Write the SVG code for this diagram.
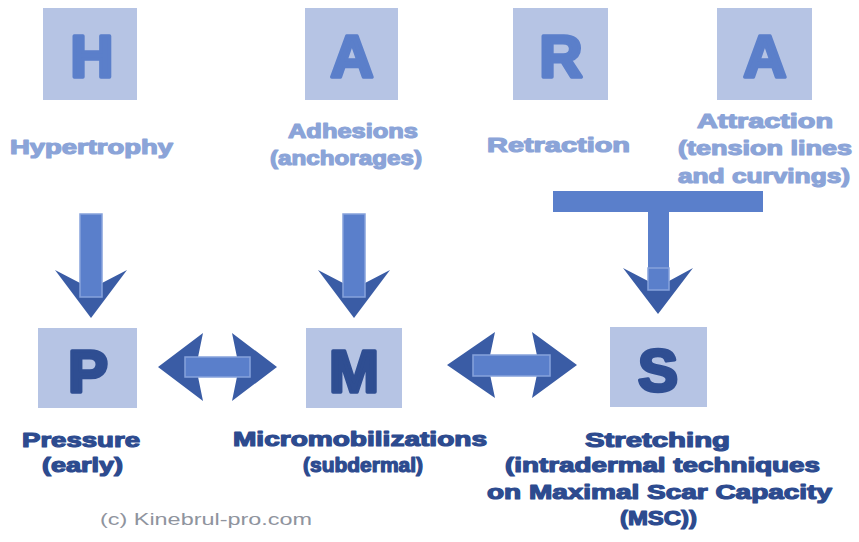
<svg xmlns="http://www.w3.org/2000/svg" width="859" height="542" viewBox="0 0 859 542">
<defs>
<style>
.box{fill:#b6c4e4}
.bigt{font-family:"Liberation Sans",Arial,sans-serif;font-weight:bold;font-size:60px;text-anchor:middle;fill:#5b7fca;stroke:#5b7fca;stroke-width:3.5;stroke-linejoin:round}
.bigb{font-family:"Liberation Sans",Arial,sans-serif;font-weight:bold;font-size:60px;text-anchor:middle;fill:#2f4e92;stroke:#2f4e92;stroke-width:3.5;stroke-linejoin:round}
.lt{font-family:"Liberation Sans",Arial,sans-serif;font-weight:bold;font-size:20px;fill:#8ba4d8;stroke:#8ba4d8;stroke-width:1.2;stroke-linejoin:round}
.lb{font-family:"Liberation Sans",Arial,sans-serif;font-weight:bold;font-size:20px;fill:#2d4b8f;stroke:#2d4b8f;stroke-width:1.2;stroke-linejoin:round}
.cp{font-family:"Liberation Sans",Arial,sans-serif;font-size:17px;fill:#8f949e}
.head{fill:#3a5ca5}
.stem{fill:#5a7fcb;stroke:#87a2dc;stroke-width:1.5}
.bar{fill:#5a7fcb}
</style>
</defs>
<rect width="859" height="542" fill="#ffffff"/>

<g id="connectors">
  <!-- H -> P -->
  <polygon class="head" points="55,270 91,318 127,270 102,283 80,283"/>
  <rect class="stem" x="80" y="214" width="22" height="83"/>
  <!-- A -> M -->
  <polygon class="head" points="318,270 354,318 390,270 365,283 343,283"/>
  <rect class="stem" x="343" y="214" width="22" height="83"/>
  <!-- R + A -> S -->
  <rect class="bar" x="553" y="191" width="210" height="21"/>
  <polygon class="head" points="623,268 658,314 693,268 669,281 648,281"/>
  <rect class="stem" x="648" y="210" width="21" height="80" style="stroke:none"/>
  <rect class="stem" x="648" y="268" width="21" height="22" style="fill:none"/>
  <!-- P <-> M -->
  <polygon class="head" points="158,367 203,333 196,367 203,401"/>
  <polygon class="head" points="277,367 232,333 239,367 232,401"/>
  <rect class="stem" x="185" y="357" width="65" height="20"/>
  <!-- M <-> S -->
  <polygon class="head" points="447,365 495,332 488,365 495,398"/>
  <polygon class="head" points="577,365 532,332 539,365 532,398"/>
  <rect class="stem" x="473" y="355" width="77" height="21"/>
</g>

<g id="node-H">
  <rect class="box" x="43" y="8" width="94" height="92"/>
  <text class="bigt" x="92" y="77">H</text>
  <text class="lt" x="10" y="154" textLength="163" lengthAdjust="spacingAndGlyphs">Hypertrophy</text>
</g>
<g id="node-A1">
  <rect class="box" x="305" y="8" width="93" height="92"/>
  <text class="bigt" x="352" y="77">A</text>
  <text class="lt" x="288" y="138" textLength="130" lengthAdjust="spacingAndGlyphs">Adhesions</text>
  <text class="lt" x="270" y="165" textLength="152" lengthAdjust="spacingAndGlyphs">(anchorages)</text>
</g>
<g id="node-R">
  <rect class="box" x="513" y="8" width="95" height="92"/>
  <text class="bigt" x="561" y="77">R</text>
  <text class="lt" x="487" y="152" textLength="143" lengthAdjust="spacingAndGlyphs">Retraction</text>
</g>
<g id="node-A2">
  <rect class="box" x="717" y="8" width="95" height="92"/>
  <text class="bigt" x="765" y="77">A</text>
  <text class="lt" x="697" y="128" textLength="136" lengthAdjust="spacingAndGlyphs">Attraction</text>
  <text class="lt" x="678" y="155" textLength="174" lengthAdjust="spacingAndGlyphs">(tension lines</text>
  <text class="lt" x="678" y="183" textLength="172" lengthAdjust="spacingAndGlyphs">and curvings)</text>
</g>

<g id="node-P">
  <rect class="box" x="38" y="328" width="99" height="80"/>
  <text class="bigb" x="88" y="392">P</text>
  <text class="lb" x="22" y="447" textLength="118" lengthAdjust="spacingAndGlyphs">Pressure</text>
  <text class="lb" x="42" y="472" textLength="81" lengthAdjust="spacingAndGlyphs">(early)</text>
</g>
<g id="node-M">
  <rect class="box" x="306" y="328" width="96" height="80"/>
  <text class="bigb" x="354" y="392">M</text>
  <text class="lb" x="233" y="446" textLength="254" lengthAdjust="spacingAndGlyphs">Micromobilizations</text>
  <text class="lb" x="303" y="472" textLength="120" lengthAdjust="spacingAndGlyphs">(subdermal)</text>
</g>
<g id="node-S">
  <rect class="box" x="610" y="327" width="97" height="80"/>
  <text class="bigb" x="658" y="391">S</text>
  <text class="lb" x="585" y="447" textLength="145" lengthAdjust="spacingAndGlyphs">Stretching</text>
  <text class="lb" x="505" y="472" textLength="315" lengthAdjust="spacingAndGlyphs">(intradermal techniques</text>
  <text class="lb" x="487" y="499" textLength="345" lengthAdjust="spacingAndGlyphs">on Maximal Scar Capacity</text>
  <text class="lb" x="620" y="525" textLength="77" lengthAdjust="spacingAndGlyphs">(MSC))</text>
</g>

<text class="cp" x="100" y="525" textLength="212" lengthAdjust="spacingAndGlyphs">(c) Kinebrul-pro.com</text>
</svg>
